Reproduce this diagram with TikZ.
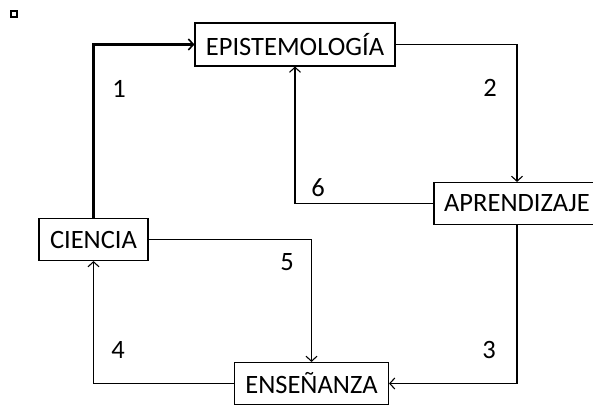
\documentclass[tikz,border=0pt]{standalone}
\usepackage{fontspec}
\setmainfont{Carlito}
\usetikzlibrary{arrows.meta}
\begin{document}
\begin{tikzpicture}[x=1pt,y=-1pt,
  concept/.style={draw,line width=1.1pt,inner sep=0pt,font=\fontsize{26.5}{26.5}\selectfont},
  link/.style={line width=1.1pt,-{Straight Barb[length=5pt,width=11pt,line width=1.1pt]}},
  mainlink/.style={line width=2.2pt,-{Straight Barb[length=5pt,width=11pt,line width=1.6pt]}},
  num/.style={font=\fontsize{26.5}{26.5}\selectfont,inner sep=0pt}]
\clip (0,0) rectangle (593,406);
\useasboundingbox (0,0) rectangle (593,406);

% small marker in the corner
\draw[line width=1.4pt] (11,11) rectangle (17,17);

% concepts
\node[concept,minimum width=200pt,minimum height=43pt] (epi) at (295,44.5) {EPISTEMOLOGÍA};
\node[concept,minimum width=166pt,minimum height=42pt] (apr) at (517,203.5) {APRENDIZAJE};
\node[concept,minimum width=109pt,minimum height=42pt] (cie) at (93.5,239.5) {CIENCIA};
\node[concept,minimum width=154pt,minimum height=42pt] (ens) at (311.5,383.5) {ENSEÑANZA};

% connectors
\draw[mainlink] (cie.north) |- (epi.west);
\draw[link] (epi.east) -| (apr.north);
\draw[link] (apr.south) |- (ens.east);
\draw[link] (ens.west) -| (cie.south);
\draw[link] (cie.east) -| (ens.north);
\draw[link] (apr.west) -| (epi.south);

% numbers
\node[num] (n1) at (119,89) {1};
\node[num] (n2) at (490,88) {2};
\node[num] (n3) at (489,350) {3};
\node[num] (n4) at (118,350) {4};
\node[num] (n5) at (287,262) {5};
\node[num] (n6) at (318,188) {6};
\end{tikzpicture}
\end{document}
